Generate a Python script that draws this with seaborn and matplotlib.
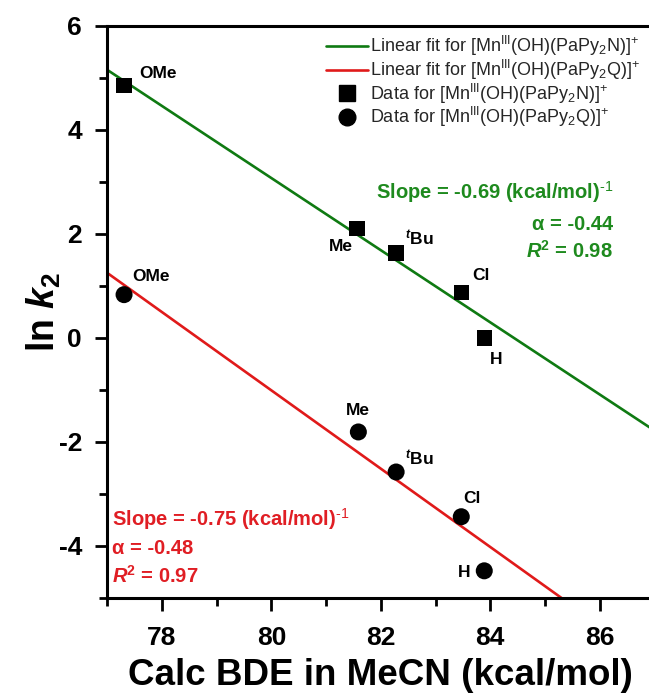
import numpy as np
import pandas as pd
import matplotlib
matplotlib.use("Agg")
import matplotlib.pyplot as plt
from matplotlib.ticker import MultipleLocator
from matplotlib.lines import Line2D
import seaborn as sns

# Calculated BDE (kcal/mol) and ln k2 for each para-substituent
substituents = ["OMe", "Me", "tBu", "Cl", "H"]
bde_N = [77.31, 81.57, 82.28, 83.47, 83.89]
lnk_N = [4.85, 2.10, 1.63, 0.87, 0.00]
bde_Q = [77.31, 81.59, 82.28, 83.47, 83.89]
lnk_Q = [0.83, -1.81, -2.58, -3.44, -4.48]

label_N = r"Linear fit for [Mn$^{\rm III}$(OH)(PaPy$_2$N)]$^{+}$"
label_Q = r"Linear fit for [Mn$^{\rm III}$(OH)(PaPy$_2$Q)]$^{+}$"
data_label_N = r"Data for [Mn$^{\rm III}$(OH)(PaPy$_2$N)]$^{+}$"
data_label_Q = r"Data for [Mn$^{\rm III}$(OH)(PaPy$_2$Q)]$^{+}$"

sub_text = {"OMe": "OMe", "Me": "Me", "tBu": r"$^{\mathbfit{t}}\mathbf{Bu}$",
            "Cl": "Cl", "H": "H"}
# label offsets (pixels) for each point
offs_N = {"OMe": (34, 12), "Me": (-16, -18), "tBu": (23, 15), "Cl": (20, 17), "H": (12, -22)}
offs_Q = {"OMe": (27, 18), "Me": (0, 21), "tBu": (23, 14), "Cl": (11, 18), "H": (-20, -2)}

GREEN = "#0f7a12"
RED = "#e01a1a"
GREEN_TXT = "#1e8a1e"
RED_TXT = "#e01e24"

sns.set_theme(style="ticks")
plt.rcParams["font.family"] = ["Liberation Sans", "DejaVu Sans"]
plt.rcParams["axes.unicode_minus"] = False
plt.rcParams["mathtext.fontset"] = "custom"
plt.rcParams["mathtext.rm"] = "Liberation Sans"
plt.rcParams["mathtext.it"] = "Liberation Sans:italic"
plt.rcParams["mathtext.bf"] = "Liberation Sans:bold"
plt.rcParams["mathtext.bfit"] = "Liberation Sans:bold:italic"

df_N = pd.DataFrame({"bde": bde_N, "lnk": lnk_N, "sub": substituents})
df_Q = pd.DataFrame({"bde": bde_Q, "lnk": lnk_Q, "sub": substituents})

fig = plt.figure(figsize=(6.49, 6.96), dpi=100)
ax = fig.add_axes([0.165, 0.141, 0.8435, 0.822])
XLIM = (77, 87)
YLIM = (-5, 6)
ax.set_xlim(*XLIM)
ax.set_ylim(*YLIM)

sns.regplot(data=df_N, x="bde", y="lnk", scatter=False, ci=None, truncate=False,
            color=GREEN, line_kws=dict(lw=1.9), ax=ax)
sns.regplot(data=df_Q, x="bde", y="lnk", scatter=False, ci=None, truncate=False,
            color=RED, line_kws=dict(lw=1.9), ax=ax)

sns.scatterplot(data=df_N, x="bde", y="lnk", marker="s", s=125, color="black",
                edgecolor="none", ax=ax, zorder=3)
sns.scatterplot(data=df_Q, x="bde", y="lnk", marker="o", s=150, color="black",
                edgecolor="none", ax=ax, zorder=3)

for df, offs in ((df_N, offs_N), (df_Q, offs_Q)):
    for _, r in df.iterrows():
        ax.annotate(sub_text[r["sub"]], (r["bde"], r["lnk"]), xytext=offs[r["sub"]],
                    textcoords="offset pixels", ha="center", va="center",
                    fontsize=12.5, fontweight="bold", color="black")

ax.set_xlim(*XLIM)
ax.set_ylim(*YLIM)

# fit statistics
STAT_FS = 14.5
SUP = r"$^{\text{-1}}$"
ax.text(613, 696 - 192, "Slope = -0.69 (kcal/mol)" + SUP, transform=None,
        ha="right", va="center", fontsize=STAT_FS, fontweight="bold", color=GREEN_TXT)
ax.text(613, 696 - 224, "α = -0.44", transform=None,
        ha="right", va="center", fontsize=STAT_FS, fontweight="bold", color=GREEN_TXT)
ax.text(613, 696 - 251, r"$\mathbfit{R}^{\mathbf{2}}$ = 0.98", transform=None,
        ha="right", va="center", fontsize=STAT_FS, fontweight="bold", color=GREEN_TXT)
ax.text(112, 696 - 519, "Slope = -0.75 (kcal/mol)" + SUP, transform=None,
        ha="left", va="center", fontsize=STAT_FS, fontweight="bold", color=RED_TXT)
ax.text(112, 696 - 548, "α = -0.48", transform=None,
        ha="left", va="center", fontsize=STAT_FS, fontweight="bold", color=RED_TXT)
ax.text(112, 696 - 576, r"$\mathbfit{R}^{\mathbf{2}}$ = 0.97", transform=None,
        ha="left", va="center", fontsize=STAT_FS, fontweight="bold", color=RED_TXT)

handles = [
    Line2D([], [], color=GREEN, lw=1.9),
    Line2D([], [], color=RED, lw=1.9),
    Line2D([], [], ls="none", marker="s", ms=11, color="black"),
    Line2D([], [], ls="none", marker="o", ms=12, color="black"),
]
leg = ax.legend(handles, [label_N, label_Q, data_label_N, data_label_Q],
                loc="upper right", bbox_to_anchor=(640 / 649, 1 - 34 / 696),
                bbox_transform=fig.transFigure, frameon=False, fontsize=13,
                handlelength=2.3, handletextpad=0.1, labelspacing=-0.02,
                borderaxespad=0, borderpad=0)

# axes styling
for side in ("left", "bottom", "top", "right"):
    ax.spines[side].set_linewidth(2.2)
    ax.spines[side].set_color("black")
ax.spines["right"].set_visible(False)
ax.xaxis.set_major_locator(MultipleLocator(2))
ax.xaxis.set_minor_locator(MultipleLocator(1))
ax.yaxis.set_major_locator(MultipleLocator(2))
ax.yaxis.set_minor_locator(MultipleLocator(1))
ax.tick_params(which="major", direction="out", length=9, width=2, labelsize=19,
               colors="black", pad=6)
ax.tick_params(which="minor", direction="out", length=6, width=2, colors="black")
ax.tick_params(axis="x", which="major", pad=11)
ax.tick_params(axis="y", which="major", pad=9)
ax.tick_params(top=False, right=False, which="both")
for lab in ax.get_xticklabels() + ax.get_yticklabels():
    lab.set_fontweight("bold")

ax.set_xlabel("Calc BDE in MeCN (kcal/mol)", fontsize=26.5, fontweight="bold",
              labelpad=6, color="black")
ax.set_ylabel(r"ln $\mathbfit{k}_{\mathbf{2}}$", fontsize=27, fontweight="bold",
              labelpad=-3, color="black")

fig.savefig("out.png", dpi=100, facecolor="white")
